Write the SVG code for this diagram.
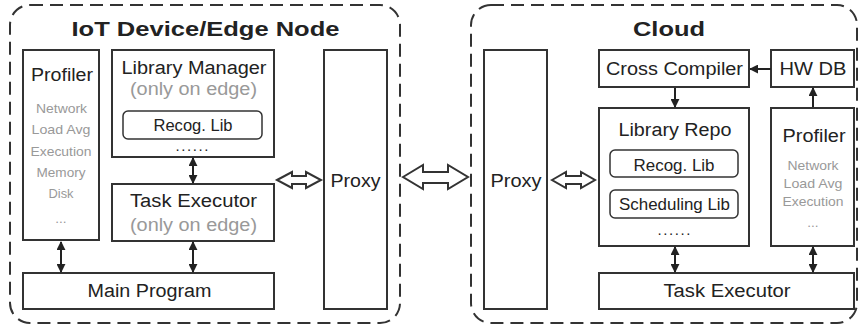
<svg xmlns="http://www.w3.org/2000/svg" width="859" height="331" viewBox="0 0 859 331">
<style>
.cont{fill:none;stroke:#333;stroke-width:2;stroke-dasharray:13 7}
.box{fill:#fff;stroke:#333;stroke-width:2}
.lib{fill:#fff;stroke:#333;stroke-width:1.5}
.t{font-family:"Liberation Sans",Arial,sans-serif;font-size:18px;fill:#222;text-anchor:middle}
.s{font-family:"Liberation Sans",Arial,sans-serif;font-size:17px;fill:#222;text-anchor:middle}
.title{font-family:"Liberation Sans",Arial,sans-serif;font-size:21px;font-weight:bold;fill:#222;text-anchor:middle}
.g{font-family:"Liberation Sans",Arial,sans-serif;font-size:13.5px;fill:#999;text-anchor:middle}
.gl{font-family:"Liberation Sans",Arial,sans-serif;font-size:18px;fill:#999;text-anchor:middle}
.ln{stroke:#222;stroke-width:2;fill:none}
.hollow{fill:#fff;stroke:#333;stroke-width:2;stroke-linejoin:miter}
</style>
<defs>
<marker id="ah" viewBox="0 0 10 10" refX="9" refY="5" markerWidth="4.5" markerHeight="4.5" orient="auto-start-reverse">
<path d="M0,0 L10,5 L0,10 Z" fill="#222"/>
</marker>
</defs>
<g id="edge-container">
<rect class="cont" x="10" y="5" width="390" height="318" rx="20"/>
<text class="title" x="205.5" y="36" textLength="268" lengthAdjust="spacingAndGlyphs">IoT Device/Edge Node</text>
</g>
<g id="cloud-container">
<rect class="cont" x="471" y="5" width="386" height="318" rx="20"/>
<text class="title" x="669" y="36" textLength="72" lengthAdjust="spacingAndGlyphs">Cloud</text>
</g>
<g id="edge-profiler">
<rect class="box" x="23" y="50" width="76" height="190"/>
<text class="t" x="62" y="81" textLength="62" lengthAdjust="spacingAndGlyphs">Profiler</text>
<text class="g" x="61.5" y="112.5" textLength="51" lengthAdjust="spacingAndGlyphs">Network</text>
<text class="g" x="61" y="134" textLength="59" lengthAdjust="spacingAndGlyphs">Load Avg</text>
<text class="g" x="61" y="155.5" textLength="61" lengthAdjust="spacingAndGlyphs">Execution</text>
<text class="g" x="61" y="177" textLength="49" lengthAdjust="spacingAndGlyphs">Memory</text>
<text class="g" x="61" y="198" textLength="25" lengthAdjust="spacingAndGlyphs">Disk</text>
<text class="g" x="61" y="223">...</text>
</g>
<g id="library-manager">
<rect class="box" x="112" y="50" width="162" height="107"/>
<text class="t" x="194" y="74" textLength="145" lengthAdjust="spacingAndGlyphs">Library Manager</text>
<text class="gl" x="193.5" y="94.5" textLength="127" lengthAdjust="spacingAndGlyphs">(only on edge)</text>
<rect class="lib" x="123" y="111" width="139" height="28" rx="5"/>
<text class="s" x="193" y="131" textLength="79" lengthAdjust="spacingAndGlyphs">Recog. Lib</text>
<text class="t" x="192" y="151" style="font-size:15px" textLength="33" lengthAdjust="spacing">......</text>
</g>
<g id="edge-task-executor">
<rect class="box" x="112" y="184" width="162" height="57"/>
<text class="t" x="193.5" y="207" textLength="127" lengthAdjust="spacingAndGlyphs">Task Executor</text>
<text class="gl" x="193.5" y="231" textLength="127" lengthAdjust="spacingAndGlyphs">(only on edge)</text>
</g>
<g id="main-program">
<rect class="box" x="23" y="273" width="251" height="36"/>
<text class="t" x="149.5" y="297" textLength="124" lengthAdjust="spacingAndGlyphs">Main Program</text>
</g>
<g id="edge-proxy">
<rect class="box" x="324" y="50" width="63" height="259"/>
<text class="t" x="355.5" y="187" textLength="50" lengthAdjust="spacingAndGlyphs">Proxy</text>
</g>
<g id="cloud-proxy">
<rect class="box" x="484" y="50" width="63" height="259"/>
<text class="t" x="516" y="187" textLength="51" lengthAdjust="spacingAndGlyphs">Proxy</text>
</g>
<g id="cross-compiler">
<rect class="box" x="599" y="50" width="150" height="37"/>
<text class="t" x="674.5" y="75" textLength="137" lengthAdjust="spacingAndGlyphs">Cross Compiler</text>
</g>
<g id="hw-db">
<rect class="box" x="771" y="50" width="83" height="37"/>
<text class="t" x="813" y="75" textLength="67" lengthAdjust="spacingAndGlyphs">HW DB</text>
</g>
<g id="library-repo">
<rect class="box" x="599" y="108" width="150" height="138"/>
<text class="t" x="675" y="136" textLength="113" lengthAdjust="spacingAndGlyphs">Library Repo</text>
<rect class="lib" x="610" y="150" width="128" height="27" rx="5"/>
<text class="s" x="674" y="170.5" textLength="81" lengthAdjust="spacingAndGlyphs">Recog. Lib</text>
<rect class="lib" x="610" y="190" width="128" height="28" rx="5"/>
<text class="s" x="674.5" y="210" textLength="111" lengthAdjust="spacingAndGlyphs">Scheduling Lib</text>
<text class="t" x="674" y="235" style="font-size:15px" textLength="33" lengthAdjust="spacing">......</text>
</g>
<g id="cloud-profiler">
<rect class="box" x="771" y="108" width="83" height="138"/>
<text class="t" x="814" y="141.5" textLength="63" lengthAdjust="spacingAndGlyphs">Profiler</text>
<text class="g" x="813" y="170" textLength="51" lengthAdjust="spacingAndGlyphs">Network</text>
<text class="g" x="813" y="188" textLength="59" lengthAdjust="spacingAndGlyphs">Load Avg</text>
<text class="g" x="813" y="205.5" textLength="61" lengthAdjust="spacingAndGlyphs">Execution</text>
<text class="g" x="813" y="227">...</text>
</g>
<g id="cloud-task-executor">
<rect class="box" x="599" y="273" width="255" height="36"/>
<text class="t" x="727" y="297" textLength="127" lengthAdjust="spacingAndGlyphs">Task Executor</text>
</g>
<g id="connectors">
<line class="ln" x1="193" y1="158" x2="193" y2="183" marker-start="url(#ah)" marker-end="url(#ah)"/>
<line class="ln" x1="61" y1="242" x2="61" y2="272" marker-start="url(#ah)" marker-end="url(#ah)"/>
<line class="ln" x1="193" y1="242" x2="193" y2="272" marker-start="url(#ah)" marker-end="url(#ah)"/>
<line class="ln" x1="771" y1="69" x2="750" y2="69" marker-end="url(#ah)"/>
<line class="ln" x1="675" y1="88" x2="675" y2="107" marker-end="url(#ah)"/>
<line class="ln" x1="813" y1="107" x2="813" y2="88" marker-end="url(#ah)"/>
<line class="ln" x1="675" y1="247" x2="675" y2="272" marker-start="url(#ah)" marker-end="url(#ah)"/>
<line class="ln" x1="813" y1="247" x2="813" y2="272" marker-start="url(#ah)" marker-end="url(#ah)"/>
<polygon class="hollow" points="277,180 292,172 292,176 306,176 306,172 321,180 306,188 306,184 292,184 292,188"/>
<polygon class="hollow" points="403,177 423,165 423,172 448,172 448,165 468,177 448,189 448,183 423,183 423,189"/>
<polygon class="hollow" points="552,180 566,172 566,176 581,176 581,172 595,180 581,188 581,184 566,184 566,188"/>
</g>
</svg>
